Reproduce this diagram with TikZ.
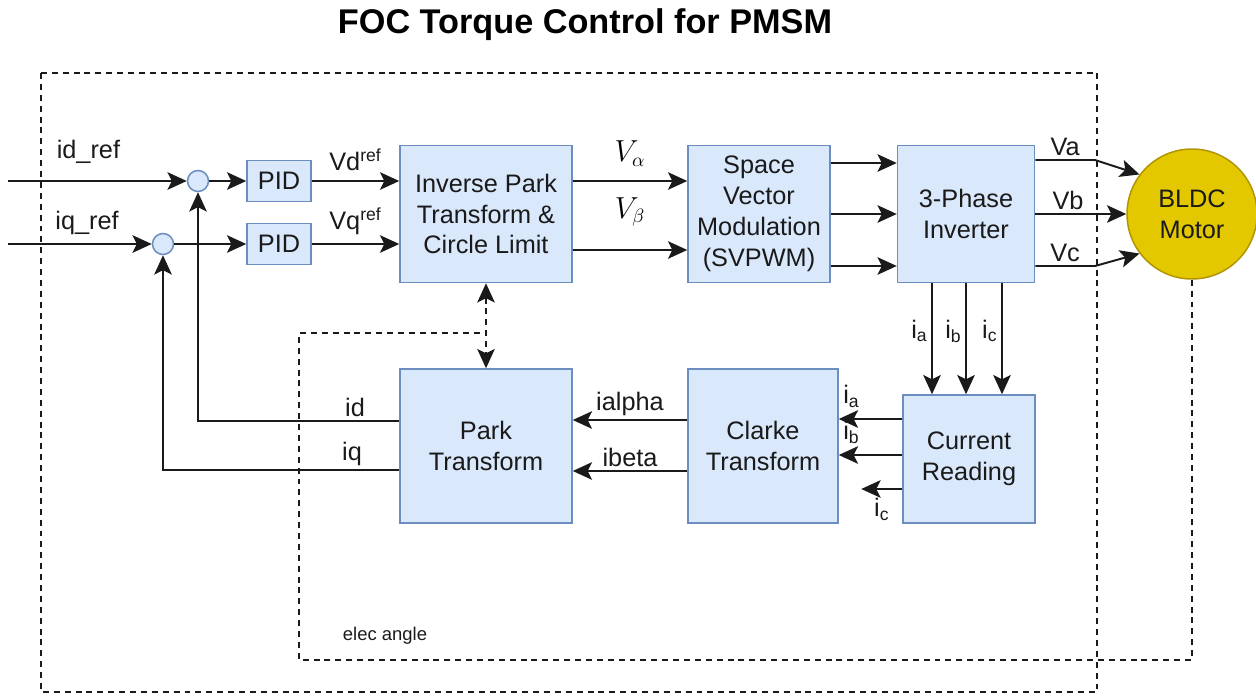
\documentclass[tikz,border=0pt]{standalone}
\usepackage{fontspec}
\setmainfont{Liberation Sans}
\usepackage{tikz}
\usetikzlibrary{arrows.meta,positioning,calc}
\definecolor{ink}{HTML}{1A1A1A}
\definecolor{blockfill}{HTML}{DAE8FC}
\definecolor{blockline}{HTML}{6C8EBF}
\definecolor{motorfill}{HTML}{E3C800}
\definecolor{motorline}{HTML}{B09500}
\tikzset{
  block/.style={draw=blockline,line width=0.85pt,fill=blockfill,align=center,text=ink,font=\fontsize{14.4}{17.6}\selectfont,inner sep=2pt},
  sumnode/.style={draw=blockline,line width=0.85pt,fill=blockfill,circle,minimum size=0.42cm,inner sep=0pt},
  motor/.style={draw=motorline,line width=0.85pt,fill=motorfill,circle,minimum size=2.6cm,inner sep=0pt,align=center,text=ink,font=\fontsize{14.4}{17.6}\selectfont},
  flow/.style={-{Stealth[length=11pt,width=10pt,inset=2.5pt]},line width=1.1pt,draw=ink},
  dline/.style={dash pattern=on 3.4pt off 2.8pt,line width=1.1pt,draw=ink},
  dflow/.style={{Stealth[length=11pt,width=10pt,inset=2.5pt]}-{Stealth[length=11pt,width=10pt,inset=2.5pt]},dash pattern=on 3.4pt off 2.8pt,line width=1.1pt,draw=ink},
  lbl/.style={font=\fontsize{14.4}{17}\selectfont,text=ink,inner sep=2pt},
  mathlbl/.style={font=\fontsize{16}{19}\selectfont,text=black,inner sep=2pt},
  smalllbl/.style={font=\fontsize{10.5}{12}\selectfont,text=ink,inner sep=1pt},
  title/.style={font=\fontsize{19.5}{23}\selectfont\bfseries,text=black}
}

\begin{document}
\begin{tikzpicture}[x=0.02cm,y=-0.02cm]
  \useasboundingbox (0,0) rectangle (1256,696);
  \node[title] (title) at (585,25) {FOC Torque Control for PMSM};
  \draw[dline] (41,73) rectangle (1097,692);

  % forward path
  \node[sumnode] (sum1) at (198,181) {};
  \node[sumnode] (sum2) at (163,244) {};
  \node[block, minimum width=1.28cm, minimum height=0.82cm] (pid1) at (279,181) {PID};
  \node[block, minimum width=1.28cm, minimum height=0.82cm] (pid2) at (279,244) {PID};
  \node[block, minimum width=3.44cm, minimum height=2.74cm] (invpark) at (486,214) {Inverse Park\\Transform \&\\Circle Limit};
  \node[block, minimum width=2.84cm, minimum height=2.74cm] (svm) at (759,214) {Space\\Vector\\Modulation\\(SVPWM)};
  \node[block, minimum width=2.74cm, minimum height=2.74cm] (inverter) at (966,214) {3-Phase\\Inverter};
  \node[motor] (motor) at (1192,214) {BLDC\\Motor};

  % feedback path
  \node[block, minimum width=2.64cm, minimum height=2.56cm] (reading) at (969,459) {Current\\Reading};
  \node[block, minimum width=3.0cm, minimum height=3.08cm] (clarke) at (763,446) {Clarke\\Transform};
  \node[block, minimum width=3.44cm, minimum height=3.08cm] (park) at (486,446) {Park\\Transform};
  \node[smalllbl] (anglelbl) at (385,636) {elec angle};

  \coordinate (idin) at (8,181);
  \coordinate (iqin) at (8,244);
  \coordinate (valpha) at ([yshift=0.66cm]invpark.east);
  \coordinate (vbeta) at ([yshift=-0.72cm]invpark.east);
  \coordinate (sa) at ([yshift=1.02cm]svm.east);
  \coordinate (sc) at ([yshift=-1.04cm]svm.east);
  \coordinate (vaknee) at (1095,160);
  \coordinate (vcknee) at (1095,266);
  \coordinate (ia) at ([yshift=0.8cm]reading.west);
  \coordinate (ib) at ([yshift=0.08cm]reading.west);
  \coordinate (ic) at ([yshift=-0.6cm]reading.west);
  \coordinate (ictip) at ([xshift=-0.82cm]ic);
  \coordinate (ialpha) at ([yshift=0.52cm]clarke.west);
  \coordinate (ibeta) at ([yshift=-0.5cm]clarke.west);
  \coordinate (idout) at ([yshift=0.5cm]park.west);
  \coordinate (iqout) at ([yshift=-0.48cm]park.west);
  \coordinate (ea2) at (299,660);
  \coordinate (ea4) at (486,333);

  \draw[flow] (idin) -- node[lbl,above=0.25cm,pos=0.45]{id\_ref} (sum1);
  \draw[flow] (iqin) -- node[lbl,above=0.1cm,pos=0.55]{iq\_ref} (sum2);
  \draw[flow] (sum1) -- (pid1);
  \draw[flow] (sum2) -- (pid2);
  \draw[flow] (pid1) -- node[lbl,above=0.12cm]{Vd\textsuperscript{ref}} (pid1 -| invpark.west);
  \draw[flow] (pid2) -- node[lbl,above=0.1cm]{Vq\textsuperscript{ref}} (pid2 -| invpark.west);
  \draw[flow] (valpha) -- node[mathlbl,above=0.2cm]{$V_\alpha$} (valpha -| svm.west);
  \draw[flow] (vbeta) -- node[mathlbl,above=0.38cm]{$V_\beta$} (vbeta -| svm.west);
  \draw[flow] (sa) -- (sa -| inverter.west);
  \draw[flow] (svm.east) -- (inverter.west);
  \draw[flow] (sc) -- (sc -| inverter.west);
  \draw[flow] (inverter.east |- vaknee) -- node[lbl,above]{Va} (vaknee) -- (motor.143);
  \draw[flow] (inverter.east) -- node[lbl,above,pos=0.36]{Vb} (motor.west);
  \draw[flow] (inverter.east |- vcknee) -- node[lbl,above]{Vc} (vcknee) -- (motor.217);
  \draw[flow] ([xshift=-0.68cm]inverter.south) -- node[lbl,left,pos=0.43]{i\textsubscript{a}} ([xshift=-0.68cm]inverter.south |- reading.north);
  \draw[flow] (inverter.south) -- node[lbl,left,pos=0.43]{i\textsubscript{b}} (inverter.south |- reading.north);
  \draw[flow] ([xshift=0.72cm]inverter.south) -- node[lbl,left,pos=0.43]{i\textsubscript{c}} ([xshift=0.72cm]inverter.south |- reading.north);
  \draw[flow] (ia) -- node[lbl,above=0.14cm,pos=0.8]{i\textsubscript{a}} (ia -| clarke.east);
  \draw[flow] (ib) -- node[lbl,above=0.14cm,pos=0.8]{i\textsubscript{b}} (ib -| clarke.east);
  \draw[flow] (ic) -- node[lbl,below=0.1cm]{i\textsubscript{c}} (ictip);
  \draw[flow] (ialpha) -- node[lbl,above]{ialpha} (ialpha -| park.east);
  \draw[flow] (ibeta) -- node[lbl,above]{ibeta} (ibeta -| park.east);
  \draw[flow] (idout) -| node[lbl,above,pos=0.11]{id} (sum1.south);
  \draw[flow] (iqout) -| node[lbl,above,pos=0.1]{iq} (sum2.south);

  % electrical angle
  \draw[dline] (motor.south) |- (ea2) |- (ea4);
  \draw[dflow] (invpark.south) -- (park.north);
\end{tikzpicture}
\end{document}
